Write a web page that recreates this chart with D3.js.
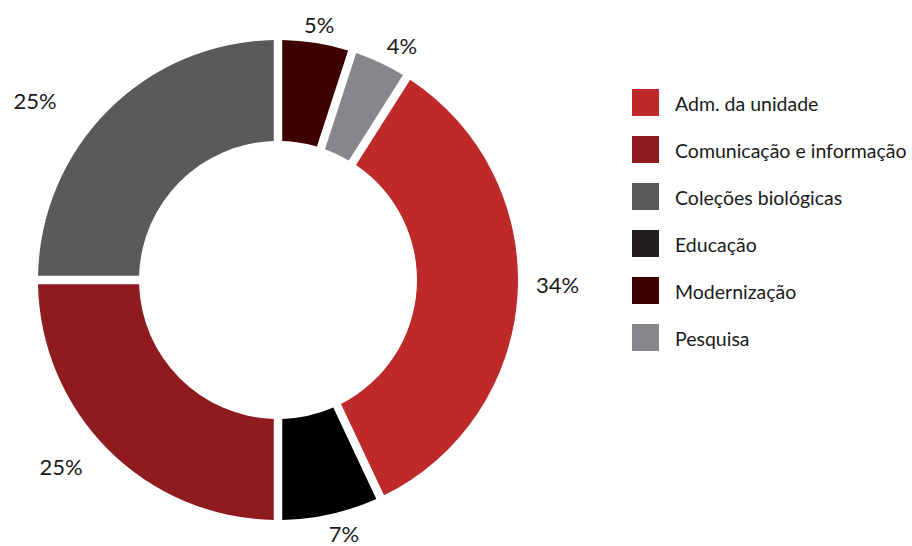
<!DOCTYPE html>
<html>
<head>
<meta charset="utf-8">
<script src="https://cdn.jsdelivr.net/npm/d3@7"></script>
<style>
  html, body { margin: 0; padding: 0; background: #fff; }
  svg { display: block; font-family: Lato, "Open Sans", sans-serif; }
</style>
</head>
<body>
<svg id="chart" width="912" height="546"></svg>
<script>
// Budget share by area, in percent
const categories = ["Adm. da unidade", "Comunicação e informação", "Coleções biológicas", "Educação", "Modernização", "Pesquisa"];
const values = [34, 25, 25, 7, 5, 4];
const colors = ["#be292a", "#8e1b1d", "#595a5c", "#000000", "#3f0000", "#86878a"];
const swatchColors = ["#be292a", "#8e1b1d", "#595a5c", "#231f20", "#3f0000", "#86878a"];
// Order of the slices around the ring, clockwise from 12 o'clock
const ringOrder = ["Modernização", "Pesquisa", "Adm. da unidade", "Educação", "Comunicação e informação", "Coleções biológicas"];

// Small nudges for the percentage labels, relative to their arc-based spot
const labelNudge = {
  "Modernização": [-1, 11],
  "Pesquisa": [9, 10],
  "Adm. da unidade": [10, -12],
  "Educação": [7, -10],
  "Comunicação e informação": [-26, -4],
  "Coleções biológicas": [-52, 11]
};

const data = categories.map((c, i) => ({ name: c, value: values[i], color: colors[i], swatch: swatchColors[i] }));

const svg = d3.select("#chart");
const cx = 278, cy = 280;
const outerR = 240, innerR = 139;

const pie = d3.pie()
  .value(d => d.value)
  .sort((a, b) => ringOrder.indexOf(a.name) - ringOrder.indexOf(b.name));

// Constant-width white gaps cut inside each slice
const arc = d3.arc()
  .innerRadius(innerR)
  .outerRadius(outerR)
  .padAngle(8.5 / outerR)
  .padRadius(outerR);

const g = svg.append("g").attr("transform", `translate(${cx},${cy})`);
const arcs = pie(data);

g.selectAll("path.slice")
  .data(arcs)
  .join("path")
  .attr("class", "slice")
  .attr("d", arc)
  .attr("fill", d => d.data.color);

// Percentage labels outside the ring
const labelArc = d3.arc().innerRadius(270).outerRadius(270);
g.selectAll("text.pct")
  .data(arcs)
  .join("text")
  .attr("class", "pct")
  .attr("transform", d => {
    const [x, y] = labelArc.centroid(d);
    const [nx, ny] = labelNudge[d.data.name];
    return `translate(${x + nx},${y + ny})`;
  })
  .attr("text-anchor", "middle")
  .attr("dominant-baseline", "central")
  .attr("font-size", 22)
  .attr("fill", "#1a1a1a")
  .text(d => d.data.value + "%");

// Legend
const legend = svg.append("g").attr("transform", "translate(632,89)");
const rowStep = d3.scalePoint().domain(categories).range([0, 235]);
const rows = legend.selectAll("g.row")
  .data(data)
  .join("g")
  .attr("class", "row")
  .attr("transform", d => `translate(0,${rowStep(d.name)})`);

rows.append("rect")
  .attr("width", 27)
  .attr("height", 27)
  .attr("fill", d => d.swatch);

rows.append("text")
  .attr("x", 43)
  .attr("y", 14)
  .attr("dominant-baseline", "central")
  .attr("font-size", 19.5)
  .attr("fill", "#1a1a1a")
  .text(d => d.name);
</script>
</body>
</html>
